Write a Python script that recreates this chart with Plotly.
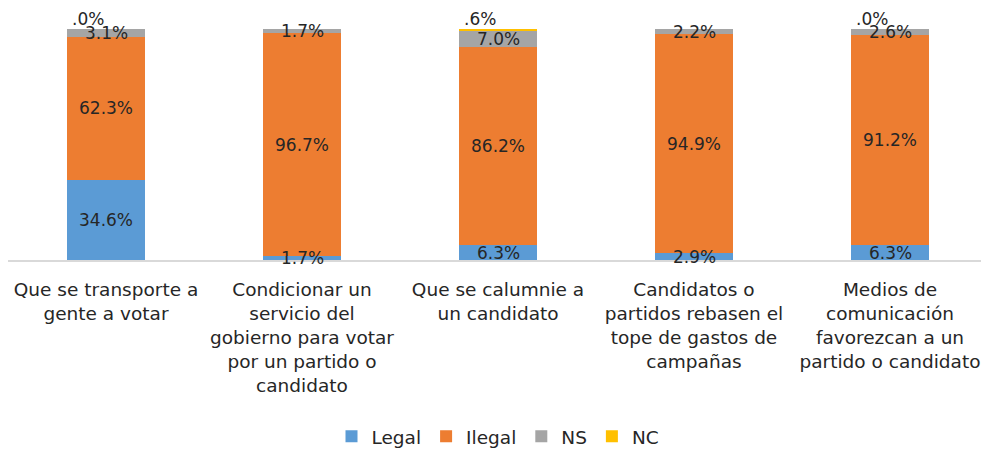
import plotly.graph_objects as go

categories = [
    "Que se transporte a<br>gente a votar",
    "Condicionar un<br>servicio del<br>gobierno para votar<br>por un partido o<br>candidato",
    "Que se calumnie a<br>un candidato",
    "Candidatos o<br>partidos rebasen el<br>tope de gastos de<br>campañas",
    "Medios de<br>comunicación<br>favorezcan a un<br>partido o candidato",
]
legal = [34.6, 1.7, 6.3, 2.9, 6.3]
ilegal = [62.3, 96.7, 86.2, 94.9, 91.2]
ns = [3.1, 1.7, 7.0, 2.2, 2.6]
nc = [0.0, None, 0.6, None, 0.0]
nc_labels = [".0%", None, ".6%", None, ".0%"]

series = [
    ("Legal", legal, "#5B9BD5"),
    ("Ilegal", ilegal, "#ED7D31"),
    ("NS", ns, "#A5A5A5"),
    ("NC", nc, "#FFC000"),
]

FONT = "DejaVu Sans, sans-serif"
TXT = "#262626"
LBL = 17

fig = go.Figure()
for name, vals, color in series:
    fig.add_trace(go.Bar(
        name=name, x=categories, y=[v if v is not None else 0 for v in vals],
        marker=dict(color=color, line=dict(width=0)),
        width=0.4,
        hoverinfo="skip",
    ))

annotations = []
for i, cat in enumerate(categories):
    base = 0.0
    for name, vals, color in series[:3]:
        v = vals[i]
        annotations.append(dict(
            x=cat, y=base + v / 2, text=f"{v:.1f}%", showarrow=False,
            xref="x", yref="y", font=dict(size=LBL, color=TXT, family=FONT),
        ))
        base += v
    if nc[i] is not None:
        annotations.append(dict(
            x=cat, y=base + nc[i], text=nc_labels[i], showarrow=False,
            xref="x", yref="y", yanchor="bottom", xshift=-18, yshift=-2,
            font=dict(size=LBL, color=TXT, family=FONT),
        ))

fig.update_layout(
    barmode="stack",
    width=981, height=442,
    margin=dict(l=0, r=1, t=19.6, b=190, autoexpand=False),
    paper_bgcolor="white", plot_bgcolor="white",
    font=dict(family=FONT, size=18.5, color=TXT),
    xaxis=dict(
        showline=True, linecolor="#d9d9d9", linewidth=1.5,
        ticks="", tickfont=dict(size=18.5, color=TXT, family=FONT),
        showgrid=False, automargin=False, ticklabelstandoff=12,
    ),
    yaxis=dict(range=[0, 100.6], visible=False, showgrid=False, automargin=False),
    legend=dict(
        orientation="h", x=0.5, xanchor="center", y=-0.762, yanchor="middle",
        font=dict(size=18.5, color=TXT, family=FONT),
        itemsizing="constant", traceorder="normal", itemwidth=30,
    ),
    annotations=annotations,
    showlegend=True,
)

fig.write_html("out.html")
